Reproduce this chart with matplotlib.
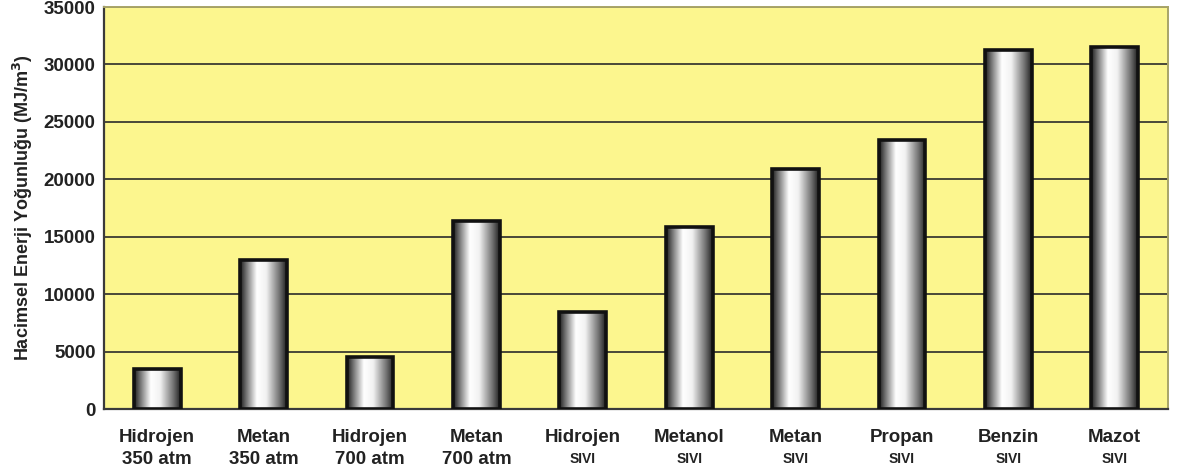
import numpy as np
import matplotlib
matplotlib.use("Agg")
import matplotlib.pyplot as plt
from matplotlib.colors import LinearSegmentedColormap

plt.rcParams['font.family'] = ['Liberation Sans', 'DejaVu Sans']

fuel_names = ["Hidrojen", "Metan", "Hidrojen", "Metan", "Hidrojen",
              "Metanol", "Metan", "Propan", "Benzin", "Mazot"]
fuel_states = ["350 atm", "350 atm", "700 atm", "700 atm", "SIVI",
               "SIVI", "SIVI", "SIVI", "SIVI", "SIVI"]
energy_density = [3450, 12950, 4550, 16350, 8450,
                  15850, 20900, 23400, 31250, 31500]
y_ticks = [0, 5000, 10000, 15000, 20000, 25000, 30000, 35000]
y_label = "Hacimsel Enerji Yoğunluğu (MJ/m$^\\mathbf{3}$)"

W, H = 1183, 473
fig = plt.figure(figsize=(W / 100, H / 100), dpi=100)
ax = fig.add_axes([104 / W, (H - 409) / H, 1064 / W, 402 / H])
ax.set_facecolor("#fcf68e")

n = len(energy_density)
x = np.arange(n) + 0.5
ax.set_xlim(0, n)
ax.set_ylim(0, 35000)

# horizontal grid
ax.set_yticks(y_ticks)
ax.yaxis.grid(True, color="#2a2a2a", linewidth=1.2)
ax.set_axisbelow(True)
ax.set_xticks([])

# metallic cylinder shading
cyl = LinearSegmentedColormap.from_list(
    "cyl", [(0.0, "#1a1a1a"), (0.12, "#6a6a6a"), (0.36, "#ffffff"),
            (0.56, "#f2f2f2"), (0.85, "#6e6e6e"), (1.0, "#1e1e1e")])
grad = np.linspace(0, 1, 256).reshape(1, -1)

bw = 0.44
bars = ax.bar(x, energy_density, width=bw, facecolor="none",
              edgecolor="#111111", linewidth=2.6, zorder=4)
for rect in bars:
    x0 = rect.get_x()
    h = rect.get_height()
    im = ax.imshow(grad, cmap=cyl, aspect="auto",
                   extent=(x0, x0 + rect.get_width(), 0, h), zorder=3,
                   interpolation="bicubic")
    im.set_clip_path(rect)
ax.set_xlim(0, n)
ax.set_ylim(0, 35000)

for side in ("left", "bottom"):
    ax.spines[side].set_color("#3a3a3a")
    ax.spines[side].set_linewidth(1.6)
for side in ("top", "right"):
    ax.spines[side].set_color("#a8a468")
    ax.spines[side].set_linewidth(1.4)

ax.tick_params(axis="y", length=0, pad=6, labelsize=13.5)
for t in ax.get_yticklabels():
    t.set_fontweight("bold")
    t.set_color("#222222")

ax.set_ylabel(y_label, fontsize=13, fontweight="bold", color="#222222",
              labelpad=6)

trans = ax.get_xaxis_transform()
for xi, name, state in zip(x, fuel_names, fuel_states):
    ax.text(xi, -28 / 402, name, transform=trans, ha="center", va="center",
            fontsize=13.5, fontweight="bold", color="#222222")
    small = state == "SIVI"
    ax.text(xi, -50 / 402, state, transform=trans, ha="center", va="center",
            fontsize=10 if small else 13.5, fontweight="bold", color="#222222")

fig.savefig("out.png", dpi=100, facecolor="white")
